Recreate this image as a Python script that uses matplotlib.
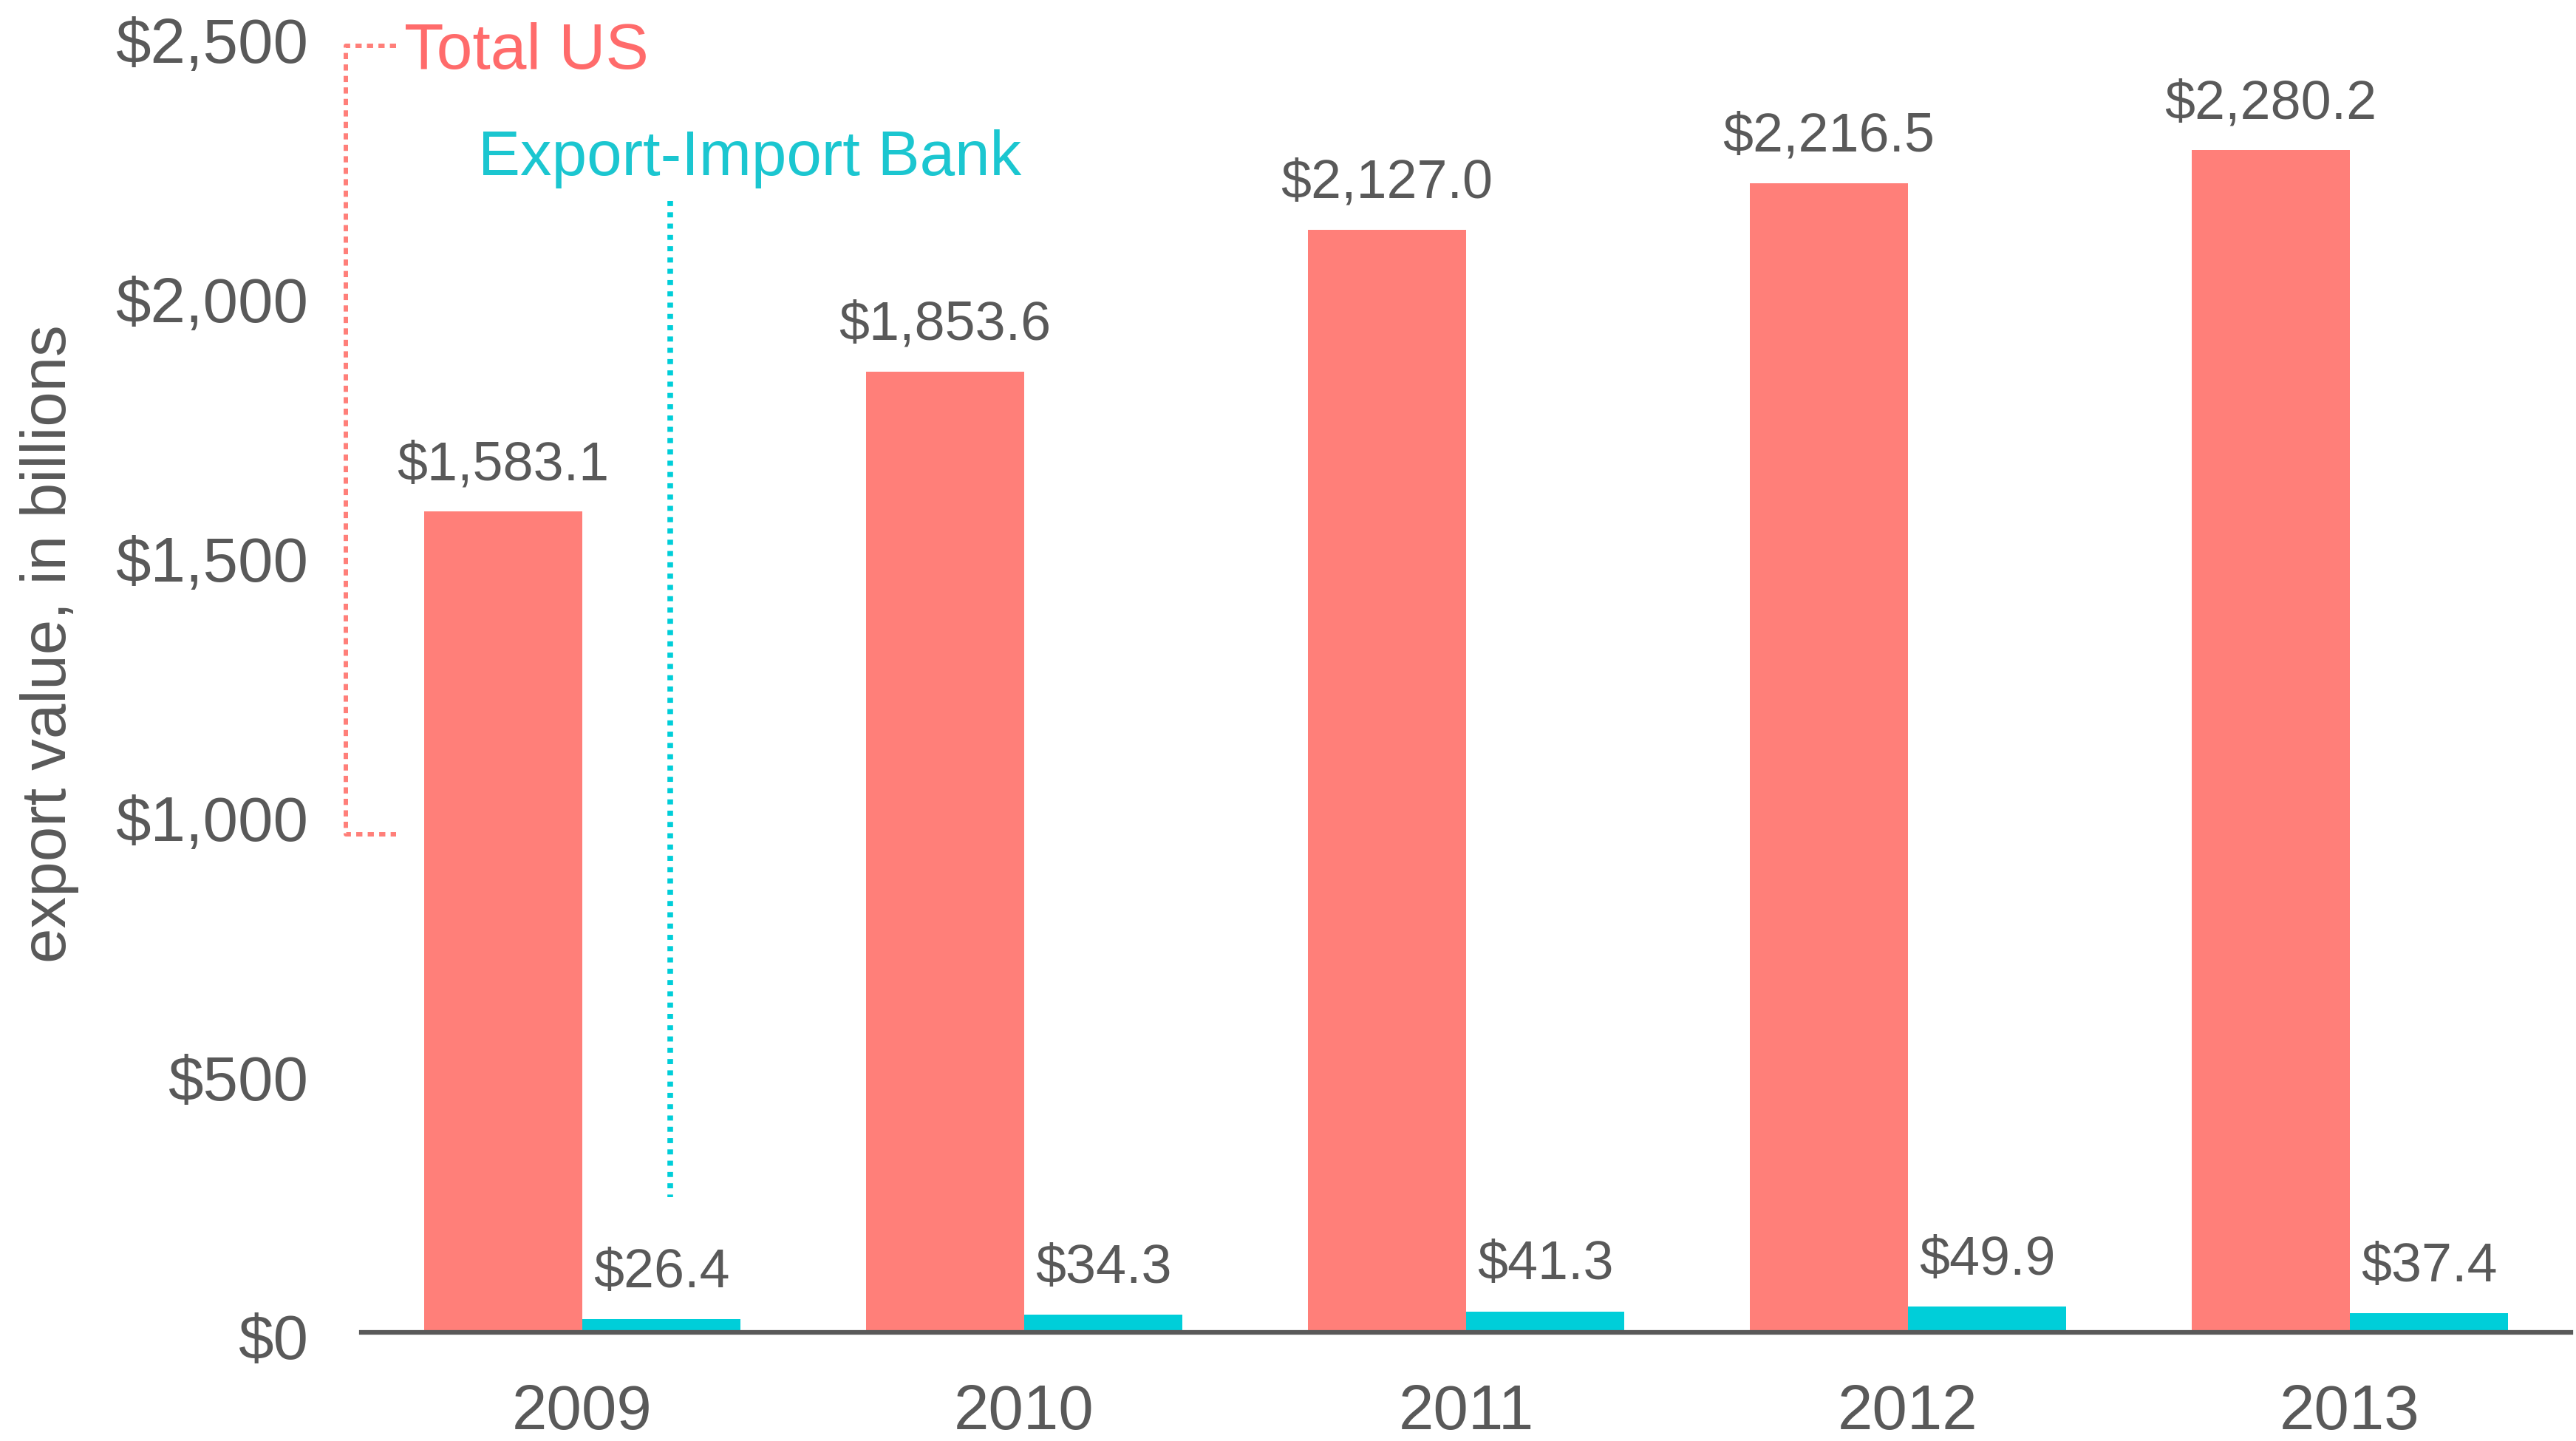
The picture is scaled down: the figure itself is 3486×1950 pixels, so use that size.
import matplotlib
matplotlib.use("Agg")
import matplotlib.pyplot as plt
import matplotlib.transforms as mtrans
import numpy as np

plt.rcParams["font.family"] = ["Liberation Sans", "DejaVu Sans"]

# ── data ──────────────────────────────────────────────────────────────────────
years     = ["2009", "2010", "2011", "2012", "2013"]
total_us  = [1583.1, 1853.6, 2127.0, 2216.5, 2280.2]
exim_bank = [26.4, 34.3, 41.3, 49.9, 37.4]
y_ticks   = [0, 500, 1000, 1500, 2000, 2500]

RED    = "#FF7F79"
CYAN   = "#00CED9"
RED_T  = "#FF6B6B"
CYAN_T = "#1BC6D0"
GREY   = "#595959"

fig = plt.figure(figsize=(34.86, 19.5), dpi=100)
ax = fig.add_axes([0.1403, 0.07513, 0.998 - 0.1403, 0.97487 - 0.07513])

x = np.arange(len(years))
w = 0.358
ax.bar(x - w / 2, total_us, w, color=RED, zorder=2)
ax.bar(x + w / 2, exim_bank, w, color=CYAN, zorder=2)

for xi, v in zip(x, total_us):
    ax.annotate(f"${v:,.1f}", xy=(xi - w / 2, v), xytext=(0, 31),
                textcoords="offset points", ha="center", va="baseline",
                fontsize=53, color=GREY)
for xi, v in zip(x, exim_bank):
    ax.annotate(f"${v:,.1f}", xy=(xi + w / 2, v), xytext=(0, 31),
                textcoords="offset points", ha="center", va="baseline",
                fontsize=53, color=GREY)

# series call-outs
ax.plot([-0.421, -0.535, -0.535, -0.421], [2482, 2482, 961, 961],
        color=RED, lw=4.3, linestyle=(0, (1.4, 1.2)), clip_on=False, zorder=3)
ax.text(-0.403, 2438, "Total US", color=RED_T, fontsize=63,
        ha="left", va="baseline", clip_on=False)
ax.plot([0.199, 0.199], [2182, 261], color=CYAN, lw=5.5,
        linestyle=(0, (0.9, 1.1)), zorder=3)
ax.text(-0.236, 2232, "Export-Import Bank", color=CYAN_T, fontsize=61.5,
        ha="left", va="baseline")

ax.set_xlim(-0.5, 4.5)
ax.set_ylim(0, 2500)
ax.set_xticks(x)
ax.set_xticklabels(years)
ax.set_yticks(y_ticks)
ax.set_yticklabels([f"${t:,}" for t in y_ticks])
ax.tick_params(axis="both", length=0, labelsize=61.5, colors=GREY)
ax.tick_params(axis="x", pad=49)
ax.tick_params(axis="y", pad=52)

# y labels sit a few pixels below their gridline in the original
shift = mtrans.ScaledTranslation(0, -5 / 100, fig.dpi_scale_trans)
for lab in ax.get_yticklabels():
    lab.set_transform(lab.get_transform() + shift)

for s in ["top", "right", "left"]:
    ax.spines[s].set_visible(False)
ax.spines["bottom"].set_color(GREY)
ax.spines["bottom"].set_linewidth(4.5)
ax.spines["bottom"].set_zorder(4)

fig.text(67 / 3486, (1950 - 871) / 1950, "export value, in billions",
         rotation=90, ha="center", va="center", fontsize=61.5, color=GREY)

fig.savefig("out.png", dpi=100)
